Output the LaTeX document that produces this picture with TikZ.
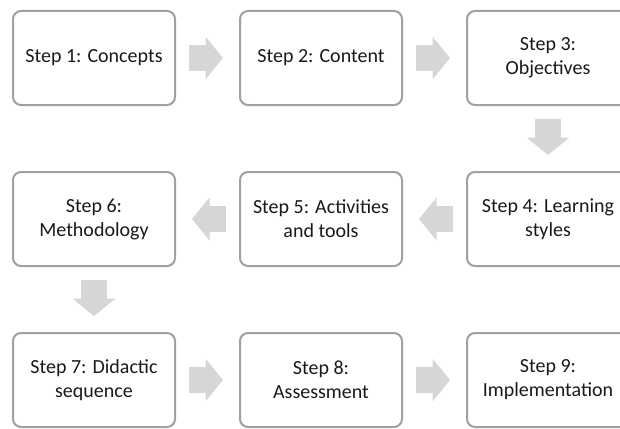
\documentclass[tikz,border=0pt]{standalone}
\usepackage{fontspec}
\setmainfont{Carlito}
\usetikzlibrary{positioning}
\usetikzlibrary{arrows.meta}
\definecolor{boxgray}{HTML}{A0A0A0}
\definecolor{arrowgray}{HTML}{D6D6D6}
\tikzset{%
  stepbox/.style={rectangle, rounded corners=8pt, draw=boxgray, line width=2pt,
    minimum width=162pt, minimum height=94pt, align=center, text=black!90,
    font=\fontsize{20pt}{24pt}\selectfont},
  flowarrow/.style={draw=arrowgray, line width=26pt,
    -{Triangle[length=17.5pt,width=42pt]}, shorten <=13pt, shorten >=16pt}
}

\begin{document}
\begin{tikzpicture}
  \clip (0,0) rectangle (620pt,-428pt);
  % first row
  \node[stepbox] (s1) at (94pt,-58pt) {Step 1: Concepts};
  \node[stepbox, right=63pt of s1] (s2) {Step 2: Content};
  \node[stepbox, right=63pt of s2] (s3) {Step 3:\\Objectives};
  % second row, right to left
  \node[stepbox, below=65pt of s3] (s4) {Step 4: Learning\\styles};
  \node[stepbox, left=63pt of s4] (s5) {Step 5: Activities\\and tools};
  \node[stepbox, left=63pt of s5] (s6) {Step 6:\\Methodology};
  % third row
  \node[stepbox, below=65pt of s6] (s7) {Step 7: Didactic\\sequence};
  \node[stepbox, right=63pt of s7] (s8) {Step 8:\\Assessment};
  \node[stepbox, right=63pt of s8] (s9) {Step 9:\\Implementation};
  \draw [flowarrow] (s1) -- (s2);
  \draw [flowarrow] (s2) -- (s3);
  \draw [flowarrow] (s3) -- (s4);
  \draw [flowarrow] (s4) -- (s5);
  \draw [flowarrow] (s5) -- (s6);
  \draw [flowarrow] (s6) -- (s7);
  \draw [flowarrow] (s7) -- (s8);
  \draw [flowarrow] (s8) -- (s9);
\end{tikzpicture}
\end{document}
